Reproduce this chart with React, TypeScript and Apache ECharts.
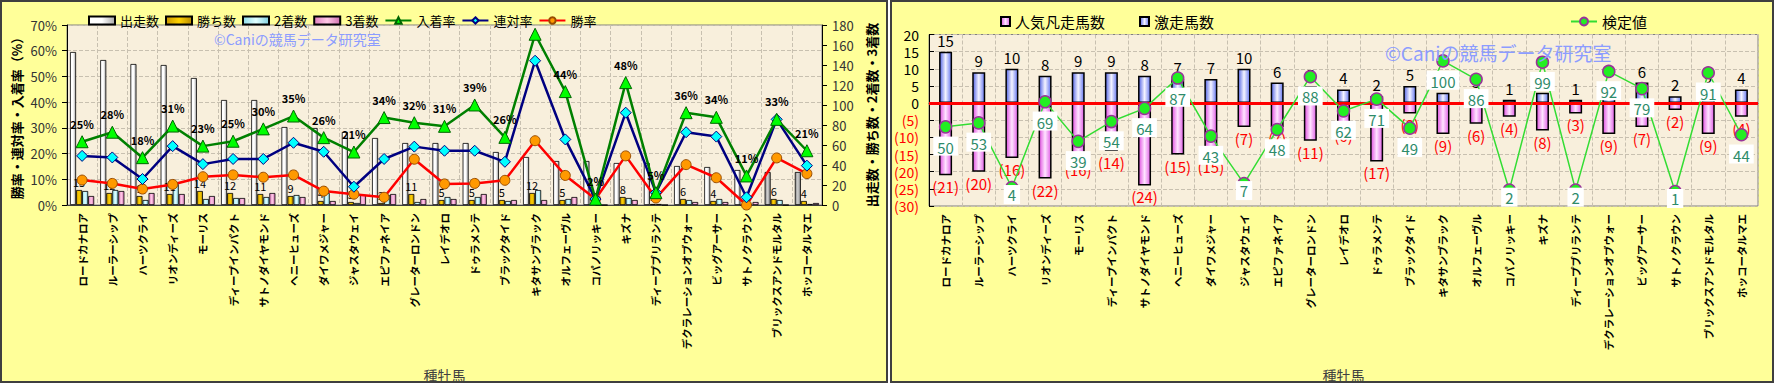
import React, { useEffect, useRef } from 'react';
import * as echarts from 'echarts';

const sires = ['ロードカナロア','ルーラーシップ','ハーツクライ','リオンディーズ','モーリス','ディープインパクト','サトノダイヤモンド','ヘニーヒューズ','ダイワメジャー','ジャスタウェイ','エピファネイア','グレーターロンドン','レイデオロ','ドゥラメンテ','ブラックタイド','キタサンブラック','オルフェーヴル','コパノリッキー','キズナ','ディープブリランテ','デクラレーションオブウォー','ビッグアーサー','サトノクラウン','ブリックスアンドモルタル','ホッコータルマエ'];

// left chart (counts, right axis)
const starts = [153,145,141,140,127,105,105,78,77,73,67,62,62,62,53,48,44,44,42,42,39,38,35,33,33];
const wins = [15,12,9,11,14,12,11,9,4,3,2,11,5,5,5,12,5,1,8,1,6,4,0,6,4];
const seconds = [14,15,5,21,6,7,8,10,12,2,10,3,8,8,4,15,6,0,7,1,5,6,1,5,1];
const thirds = [9,14,12,11,9,7,12,8,4,10,11,6,6,11,5,5,8,0,5,0,3,3,3,0,2];
// left chart (rates %, left axis)
const placeRate = [24.6,28.3,18.4,30.7,22.9,24.8,29.6,34.6,26.2,20.6,34.0,32.0,30.6,38.9,26.3,66.4,44.1,2.3,47.6,4.8,35.9,34.1,11.3,33.3,21.1];
const quinellaRate = [19.1,18.5,10.1,22.9,15.9,17.9,17.9,24.2,20.7,7.1,17.9,22.7,21.1,21.1,16.8,56.1,25.5,2.3,35.9,4.8,28.3,26.6,3.0,33.3,15.3];
const winRate = [9.7,8.4,6.2,8.0,11.0,11.7,10.8,11.7,5.4,4.2,3.0,17.8,8.2,8.4,9.6,25.0,11.5,2.3,19.1,2.7,15.7,10.6,0,18.3,12.2];
const grayStartIdx = [23, 24];
const hiddenPlaceLabel = [15];

// right chart
const surge = [15,9,10,8,9,9,8,7,7,10,6,5,4,2,5,3,3,1,3,1,6,6,2,3,4];
const flop = [-21,-20,-16,-22,-16,-14,-24,-15,-15,-7,-7,-11,-6,-17,-3,-9,-6,-4,-8,-3,-9,-7,-2,-9,-4];
const score = [50,53,4,69,39,54,64,87,43,7,48,88,62,71,49,100,86,2,99,2,92,79,1,91,44];

const leftTicksPct = { min: 0, max: 70, interval: 10 };
const leftTicksCnt = { min: 0, max: 180, interval: 20 };
const rightTicks = { min: -30, max: 20, interval: 5 };
const scoreAxis = { min: -10, max: 120 };

const FONT = '"Noto Sans CJK JP", "Noto Sans", sans-serif';

const hGrad = (a: string, b: string, c: string) =>
  new echarts.graphic.LinearGradient(0, 0, 1, 0, [
    { offset: 0, color: a },
    { offset: 0.5, color: b },
    { offset: 1, color: c },
  ]);

export default function App() {
  const ref = useRef<HTMLDivElement>(null);
  useEffect(() => {
    document.body.style.margin = '0';
    const chart = echarts.init(ref.current!, null, { renderer: 'svg' });
    const gridLine = { show: true, lineStyle: { color: '#C8C0B0', type: 'dashed', width: 1 } };
    const xLabel = { rotate: 90, interval: 0, fontSize: 10.5, fontWeight: 'bold', color: '#000', margin: 8, fontFamily: FONT };
    const barBorder = { borderColor: '#000', borderWidth: 0.8 };
    const option: any = {
      animation: false,
      textStyle: { fontFamily: FONT },
      graphic: [
        { type: 'rect', z: -10, shape: { x: 1, y: 1, width: 886, height: 381 }, style: { fill: '#FFFF99', stroke: '#3F3F3F', lineWidth: 2 } },
        { type: 'rect', z: -10, shape: { x: 891, y: 1, width: 882, height: 381 }, style: { fill: '#FFFF99', stroke: '#3F3F3F', lineWidth: 2 } },
        { type: 'text', z: 100, left: 214, top: 32, style: { text: '©Caniの競馬データ研究室', fill: '#8C9CFF', font: '14px ' + FONT } },
        { type: 'text', z: 100, left: 1385, top: 43, style: { text: '©Caniの競馬データ研究室', fill: '#8C9CFF', font: '19px ' + FONT } },
      ],
      legend: [
        {
          left: 83, top: 9, itemWidth: 26, itemHeight: 8, itemGap: 6,
          textStyle: { fontSize: 13, color: '#000' },
          data: [
            { name: '出走数', icon: 'rect' }, { name: '勝ち数', icon: 'rect' }, { name: '2着数', icon: 'rect' }, { name: '3着数', icon: 'rect' },
            { name: '入着率' }, { name: '連対率' }, { name: '勝率' },
          ],
        },
        {
          left: 995, top: 9, itemWidth: 9, itemHeight: 9, itemGap: 34,
          textStyle: { fontSize: 15, color: '#000' },
          data: [{ name: '人気凡走馬数', icon: 'rect' }, { name: '激走馬数', icon: 'rect' }],
        },
        {
          left: 1565, top: 9, itemWidth: 26, itemHeight: 10,
          textStyle: { fontSize: 15, color: '#000' },
          data: ['検定値'],
        },
      ],
      grid: [
        { left: 67, top: 25, width: 755, height: 180, show: true, backgroundColor: '#F8EFDC', borderColor: '#808080', borderWidth: 1 },
        { left: 929, top: 34.5, width: 829, height: 171.5, show: true, backgroundColor: '#F8EFDC', borderColor: '#808080', borderWidth: 1 },
      ],
      xAxis: [
        {
          type: 'category', gridIndex: 0, data: sires,
          axisLabel: xLabel, axisTick: { show: false },
          axisLine: { lineStyle: { color: '#404040' } },
          splitLine: gridLine,
          name: '種牡馬', nameLocation: 'middle', nameGap: 163,
          nameTextStyle: { fontSize: 14, color: '#404040' },
        },
        {
          type: 'category', gridIndex: 1, data: sires,
          axisLabel: xLabel, axisTick: { show: false },
          axisLine: { lineStyle: { color: '#404040' } },
          splitLine: gridLine,
          name: '種牡馬', nameLocation: 'middle', nameGap: 162,
          nameTextStyle: { fontSize: 14, color: '#404040' },
        },
      ],
      yAxis: [
        {
          type: 'value', gridIndex: 0, position: 'left', ...leftTicksPct,
          axisLabel: { formatter: '{value}%', fontSize: 13, color: '#333', margin: 10 },
          axisLine: { show: true, lineStyle: { color: '#000' } },
          axisTick: { show: true, lineStyle: { color: '#000' } },
          splitLine: gridLine,
          name: '勝率・連対率・入着率（%）', nameLocation: 'middle', nameGap: 44, nameRotate: 90,
          nameTextStyle: { fontSize: 13, fontWeight: 'bold', color: '#000' },
        },
        {
          type: 'value', gridIndex: 0, position: 'right', ...leftTicksCnt,
          axisLabel: { fontSize: 13, color: '#333', margin: 10 },
          axisLine: { show: true, lineStyle: { color: '#000' } },
          axisTick: { show: true, lineStyle: { color: '#000' } },
          splitLine: { show: false },
          name: '出走数・勝ち数・2着数・3着数', nameLocation: 'middle', nameGap: 43, nameRotate: 90,
          nameTextStyle: { fontSize: 13, fontWeight: 'bold', color: '#000' },
        },
        {
          type: 'value', gridIndex: 1, position: 'left', ...rightTicks,
          axisLabel: {
            margin: 10,
            formatter: (v: number) => (v < 0 ? `{n|(${-v})}` : `{p|${v}}`),
            rich: { n: { color: '#FF0000', fontSize: 14 }, p: { color: '#000', fontSize: 14 } },
          },
          axisLine: { show: true, lineStyle: { color: '#000' } },
          axisTick: { show: true, inside: true, lineStyle: { color: '#000' } },
          splitLine: gridLine,
        },
        {
          type: 'value', gridIndex: 1, position: 'right', ...scoreAxis, show: false,
          splitLine: { show: false },
        },
      ],
      series: [
        {
          name: '出走数', type: 'bar', xAxisIndex: 0, yAxisIndex: 1, barGap: '0%', barCategoryGap: '20%',
          itemStyle: { color: hGrad('#FFFFFF', '#FFFFFF', '#A8A8A8'), ...barBorder },
          data: starts.map((v, i) => grayStartIdx.includes(i)
            ? { value: v, itemStyle: { color: hGrad('#8C8C8C', '#D0D0D0', '#808080') } } : v),
        },
        {
          name: '勝ち数', type: 'bar', xAxisIndex: 0, yAxisIndex: 1,
          itemStyle: { color: hGrad('#C89600', '#FFD200', '#B88A00'), ...barBorder },
          label: { show: true, position: 'top', distance: 3, fontSize: 11, color: '#000',
            formatter: (p: any) => (p.value > 0 ? String(p.value) : '') },
          data: wins,
        },
        {
          name: '2着数', type: 'bar', xAxisIndex: 0, yAxisIndex: 1,
          itemStyle: { color: hGrad('#8EDDEA', '#E2FFFF', '#80D0E0'), ...barBorder },
          data: seconds,
        },
        {
          name: '3着数', type: 'bar', xAxisIndex: 0, yAxisIndex: 1,
          itemStyle: { color: hGrad('#E080C0', '#FFC8E6', '#D070B0'), ...barBorder },
          data: thirds,
        },
        {
          name: '入着率', type: 'line', xAxisIndex: 0, yAxisIndex: 0, z: 5,
          lineStyle: { color: '#008000', width: 2.5 }, symbol: 'triangle', symbolSize: 12,
          itemStyle: { color: '#00FF00', borderColor: '#006400', borderWidth: 1 },
          label: { show: true, position: 'top', distance: 6, fontSize: 11, fontWeight: 'bold', color: '#000',
            formatter: (p: any) => `${Math.round(p.value)}%` },
          data: placeRate.map((v, i) => (hiddenPlaceLabel.includes(i) ? { value: v, label: { show: false } } : v)),
        },
        {
          name: '連対率', type: 'line', xAxisIndex: 0, yAxisIndex: 0, z: 4,
          lineStyle: { color: '#000080', width: 2.5 }, symbol: 'diamond', symbolSize: 11,
          itemStyle: { color: '#00FFFF', borderColor: '#000080', borderWidth: 1 },
          data: quinellaRate,
        },
        {
          name: '勝率', type: 'line', xAxisIndex: 0, yAxisIndex: 0, z: 3,
          lineStyle: { color: '#FF0000', width: 2.5 }, symbol: 'circle', symbolSize: 10,
          itemStyle: { color: '#FF9900', borderColor: '#994C00', borderWidth: 1 },
          data: winRate,
        },
        {
          name: '激走馬数', type: 'bar', xAxisIndex: 1, yAxisIndex: 2, stack: 'r', barWidth: 13,
          itemStyle: { color: hGrad('#5566E6', '#F4F4FF', '#6677F0'), borderColor: '#000', borderWidth: 1.5 },
          label: { show: true, position: 'top', distance: 4, fontSize: 15, color: '#000' },
          markLine: {
            silent: true, symbol: 'none', label: { show: false },
            lineStyle: { color: '#FF0000', width: 3, type: 'solid' },
            data: [{ yAxis: 0 }],
          },
          data: surge,
        },
        {
          name: '人気凡走馬数', type: 'bar', xAxisIndex: 1, yAxisIndex: 2, stack: 'r', barWidth: 13,
          itemStyle: { color: hGrad('#E050E0', '#FFE4FF', '#E060E6'), borderColor: '#000', borderWidth: 1.5 },
          label: { show: true, position: 'bottom', distance: 4, fontSize: 15, color: '#FF0000',
            formatter: (p: any) => `(${-p.value})` },
          data: flop,
        },
        {
          name: '検定値', type: 'line', xAxisIndex: 1, yAxisIndex: 3, z: 6,
          lineStyle: { color: '#33DD33', width: 1.5 }, symbol: 'circle', symbolSize: 12,
          itemStyle: { color: '#22EE22', borderColor: '#993399', borderWidth: 1.5 },
          label: { show: true, position: 'bottom', distance: 3, fontSize: 15, color: '#2E8B6A',
            backgroundColor: '#FFFFFF', padding: [3, 4, 1, 4] },
          data: score.map((v) => (v < 10 ? { value: v, label: { position: 'inside', offset: [0, 7] } } : v)),
        },
      ],
    };
    chart.setOption(option);
    return () => chart.dispose();
  }, []);
  return <div ref={ref} style={{ width: 1775, height: 384 }} />;
}
